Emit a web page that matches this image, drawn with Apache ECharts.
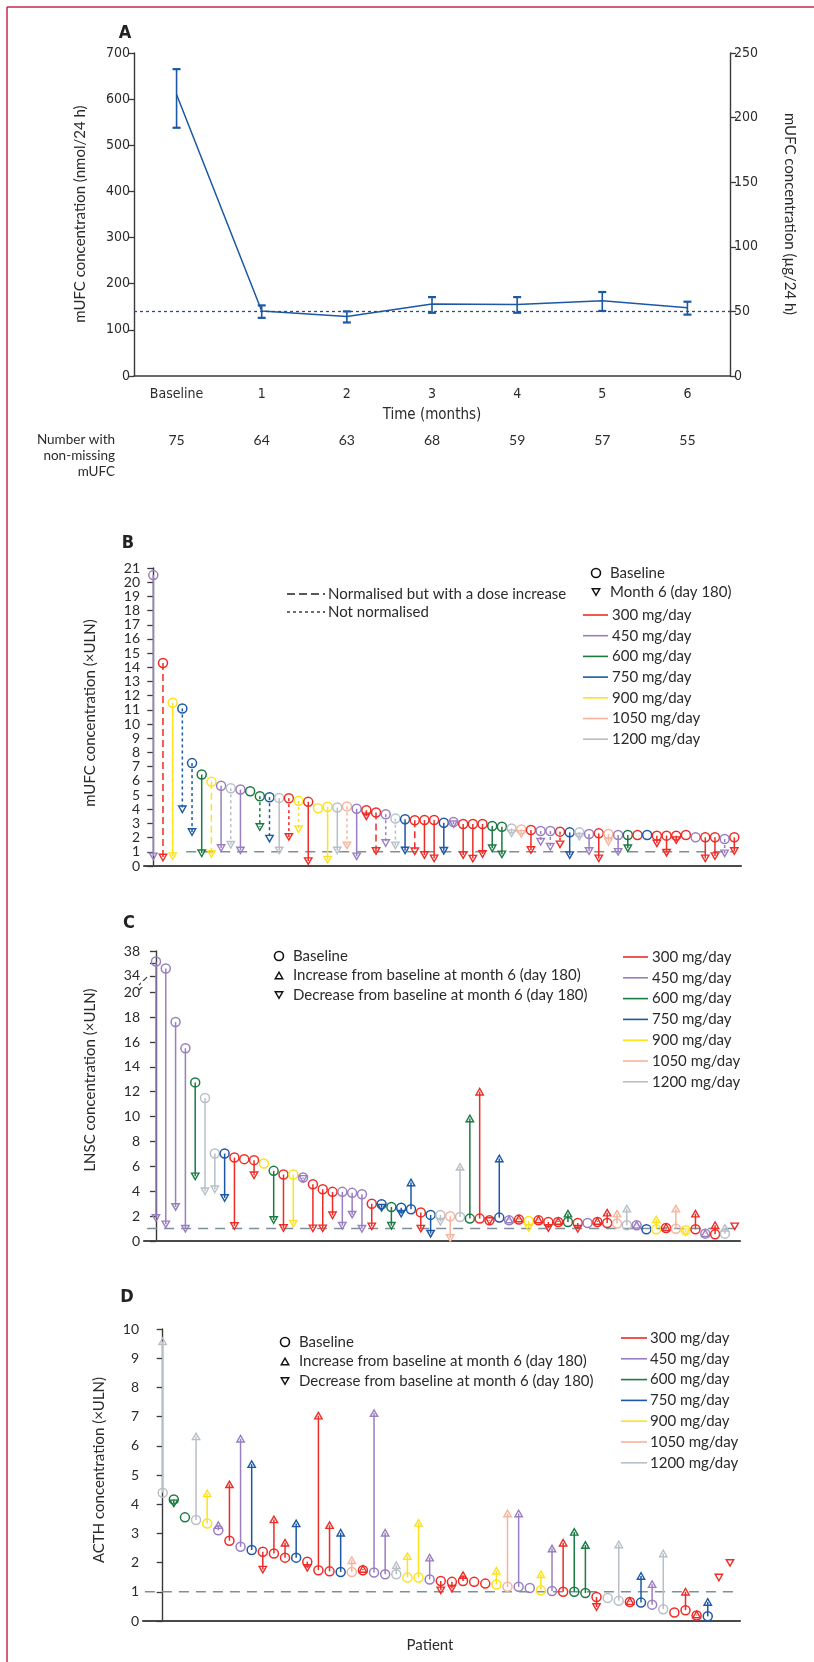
<!DOCTYPE html>
<html><head><meta charset="utf-8">
<script src="https://cdn.jsdelivr.net/npm/echarts@6/dist/echarts.min.js"></script>
<style>html,body{margin:0;padding:0;background:#fff}#c{width:814px;height:1662px}</style>
</head><body><div id="c"></div>
<script>
// ---------- Panel A data ----------
const aCats = ['Baseline', '1', '2', '3', '4', '5', '6'];
const aMean = [610, 141, 129, 156, 155, 163, 148];
const aLow  = [538, 126, 116, 137, 137, 141, 133];
const aHigh = [665, 153, 140, 171, 171, 182, 161];
const aN    = [75, 64, 63, 68, 59, 57, 55];
const aULN  = 140; // nmol/24 h  (= 50 µg/24 h)

// ---------- dose legend ----------
const doseLevels = [300, 450, 600, 750, 900, 1050, 1200];
const doseLabels = ['300 mg/day', '450 mg/day', '600 mg/day', '750 mg/day', '900 mg/day', '1050 mg/day', '1200 mg/day'];

// ---------- Panel B data (mUFC ×ULN) ----------
const bDose = [450,300,900,750,750,600,900,450,1200,450,600,600,750,1200,300,900,300,900,900,1200,1050,450,300,300,450,1200,750,300,300,300,750,450,300,300,300,600,600,1200,1050,300,450,450,300,750,1200,450,300,1050,450,600,300,750,300,300,300,300,450,300,300,450,300];
const bBase = [20.5,14.3,11.5,11.1,7.25,6.45,5.93,5.65,5.48,5.39,5.27,4.92,4.85,4.8,4.78,4.59,4.52,4.07,4.17,4.12,4.2,4.03,3.93,3.77,3.65,3.34,3.3,3.22,3.24,3.24,3.05,3.1,2.96,2.96,2.96,2.82,2.77,2.65,2.58,2.54,2.47,2.47,2.42,2.37,2.37,2.25,2.3,2.25,2.18,2.18,2.18,2.18,2.14,2.14,2.14,2.18,2.02,2.02,2.02,1.9,2.02];
const bM6   = [0.68,0.6,0.7,4.0,2.4,0.9,0.85,1.27,1.5,1.1,null,2.75,1.93,1.1,2.05,2.6,0.35,null,0.45,1.1,1.46,0.68,3.5,1.06,1.62,1.46,1.1,1.04,0.78,0.54,1.08,2.95,0.77,0.52,0.85,1.25,0.82,2.3,2.27,1.13,1.71,1.36,1.53,0.77,2.07,1.06,0.54,1.71,1.0,1.25,null,null,1.6,0.94,1.83,null,null,0.54,0.7,0.89,1.06];
// 0 = normalised, 1 = normalised but with a dose increase, 2 = not normalised
const bStatus = [0,1,0,2,2,0,1,0,2,0,0,2,2,0,2,2,0,0,0,0,2,0,0,1,2,2,0,1,0,0,0,0,0,0,0,0,0,0,0,0,2,2,2,0,0,0,0,0,0,0,0,0,0,0,0,0,0,0,0,2,0];

// ---------- Panel C data (LNSC ×ULN) ----------
const cDose = [450,450,450,450,600,1200,1200,750,300,300,300,900,600,300,900,450,300,300,300,450,450,450,300,750,600,750,750,300,750,1200,1050,1200,600,300,300,750,450,300,900,300,300,300,600,300,450,300,300,1050,1200,450,750,900,300,1050,900,300,450,300,1200,300];
const cBase = [36.3,35.2,17.6,15.5,12.75,11.5,7.03,7.03,6.71,6.58,6.5,6.23,5.64,5.34,5.34,5.1,4.56,4.16,3.95,3.95,3.87,3.76,3.0,2.95,2.74,2.68,2.55,2.3,2.1,2.1,1.99,1.93,1.8,1.8,1.66,1.88,1.66,1.72,1.61,1.66,1.53,1.53,1.53,1.45,1.45,1.53,1.45,1.4,1.26,1.26,0.94,0.94,1.05,0.99,0.86,0.94,0.59,0.54,0.59,null];
const cM6   = [1.85,1.34,2.74,0.99,5.2,4.0,4.16,3.46,1.21,null,5.29,null,1.69,1.05,1.4,5.0,1.02,1.02,2.07,1.23,2.12,0.99,1.18,2.68,1.23,2.2,4.7,1.0,0.59,1.55,0.24,5.96,9.85,12.0,1.61,6.63,1.72,1.8,1.05,1.72,1.05,1.6,2.2,0.99,null,1.6,2.28,2.2,2.6,1.3,null,1.74,1.1,2.6,0.7,2.2,0.62,1.26,1.05,1.18];
const cTicksLow = [0,2,4,6,8,10,12,14,16,18,20];
const cTicksHigh = [34,36,38];
const cHighLabels = [34,38];

// ---------- Panel D data (ACTH ×ULN) ----------
const dDose = [1200,600,600,1200,900,450,300,450,750,300,300,300,750,300,300,300,750,1050,300,450,450,1200,900,900,450,300,300,300,300,300,900,1050,450,450,900,450,300,600,600,300,1200,1200,300,750,450,1200,300,300,300,750,300,300];
const dBase = [4.39,4.16,3.55,3.46,3.34,3.11,2.75,2.54,2.43,2.37,2.31,2.17,2.17,2.03,1.74,1.7,1.68,1.68,1.74,1.66,1.6,1.6,1.49,1.49,1.42,1.37,1.34,1.37,1.34,1.28,1.25,1.17,1.17,1.13,1.05,1.03,1.0,1.0,0.96,0.82,0.79,0.69,0.65,0.63,0.56,0.4,0.29,0.37,0.19,0.16,null,null];
const dM6   = [9.58,4.03,null,6.32,4.37,3.28,4.68,6.24,5.37,1.76,3.48,2.68,3.34,1.82,7.03,3.28,3.02,2.08,1.78,7.12,3.02,1.91,2.22,3.36,2.17,1.05,1.11,1.57,null,null,1.72,3.68,3.68,null,1.6,2.48,2.68,3.05,2.6,0.48,null,2.62,0.68,1.54,1.26,2.31,null,1.0,0.22,0.65,1.49,1.99];

// ---------- styles ----------
const doseColors = ['#ee2b25', '#9a7ec2', '#1a7a42', '#1b58a5', '#ffe21a', '#f7b39c', '#b8bfc7'];
const colorOf = d => doseColors[doseLevels.indexOf(d)];
const dashes = [null, [7, 4], [3, 3]];
const FONT = 'Lato, "Open Sans", sans-serif';
const NARROW = '"Liberation Sans Narrow", "DejaVu Sans Condensed", Roboto, sans-serif';
const TXT = '#2b2b2b';
const REF = '#7d909a';

// C broken axis mapping
const cGap = 1.315;
const cMap = v => v == null ? null : (v <= 20 ? v : 20 + cGap + (v - 34) / 2);
const cUnmap = p => p <= 20.001 ? Math.round(p) : Math.round(34 + (p - 20 - cGap) * 2);
const ident = v => v;

function triPts(x, y, up) {
  return up ? [[x - 3.7, y + 3.2], [x + 3.7, y + 3.2], [x, y - 3.3]]
            : [[x - 3.7, y - 3.2], [x + 3.7, y - 3.2], [x, y + 3.3]];
}

function stemSeries(g, base, m6, dose, status, yMap) {
  return {
    type: 'custom', xAxisIndex: g, yAxisIndex: g, z: 5, clip: false,
    data: base.map((b, i) => [i, yMap(b != null ? b : m6[i]), yMap(m6[i] != null ? m6[i] : b)]),
    encode: { x: 0, y: [1, 2] },
    renderItem: (params, api) => {
      const i = params.dataIndex;
      const b = base[i], m = m6[i];
      const col = colorOf(dose[i]);
      const ch = [];
      const pb = b != null ? api.coord([i, yMap(b)]) : null;
      const pm = m != null ? api.coord([i, yMap(m)]) : null;
      const dash = status ? dashes[status[i]] : null;
      if (pb && pm) ch.push({ type: 'line', shape: { x1: pb[0], y1: pb[1], x2: pm[0], y2: pm[1] },
        style: { stroke: col, lineWidth: 1.5, lineDash: dash } });
      if (pm) {
        const up = pb ? pm[1] < pb[1] : false;
        ch.push({ type: 'polygon', shape: { points: triPts(pm[0], pm[1], up) },
          style: { stroke: col, fill: 'none', lineWidth: 1.4 } });
      }
      if (pb) ch.push({ type: 'circle', shape: { cx: pb[0], cy: pb[1], r: 4.5 },
        style: { stroke: col, fill: 'none', lineWidth: 1.5 } });
      return { type: 'group', children: ch };
    }
  };
}

function refLine(g, xFrom, xTo, yv) {
  return {
    type: 'line', xAxisIndex: g, yAxisIndex: g, z: 2, symbol: 'none', silent: true,
    data: [[xFrom, yv], [xTo, yv]],
    lineStyle: { color: REF, width: 1.6, type: [10, 7] }
  };
}

const yAxisBase = {
  type: 'value',
  axisLine: { show: true, lineStyle: { color: '#3a3a3a', width: 1.4 } },
  axisTick: { show: true, length: 6, lineStyle: { color: '#3a3a3a', width: 1.3 } },
  axisLabel: { fontSize: 14, color: TXT, fontFamily: FONT, margin: 4 },
  splitLine: { show: false }
};
const xAxisPatient = {
  type: 'value',
  axisLine: { show: true, onZero: false, lineStyle: { color: '#4a4a4a', width: 2.2 } },
  axisTick: { show: false }, axisLabel: { show: false }, splitLine: { show: false }
};

const blue = '#1b58a5';
const chart = echarts.init(document.getElementById('c'), null, { renderer: 'canvas' });

const option = {
  animation: false,
  backgroundColor: '#fff',
  grid: [
    { left: 134, top: 53, width: 596, height: 323 },
    { left: 144, top: 568, width: 597, height: 298 },
    { left: 144, top: 951, width: 596, height: 290 },
    { left: 143, top: 1329, width: 597, height: 292 }
  ],
  xAxis: [
    { type: 'category', gridIndex: 0, data: aCats, boundaryGap: true,
      axisLine: { lineStyle: { color: '#3a3a3a', width: 1.5 } },
      axisTick: { alignWithLabel: true, length: 5, lineStyle: { color: '#3a3a3a' } },
      axisLabel: { fontSize: 14, color: TXT, fontFamily: NARROW, margin: 11 } },
    Object.assign({}, xAxisPatient, { gridIndex: 1, min: -0.96, max: 60.69 }),
    Object.assign({}, xAxisPatient, { gridIndex: 2, min: -1.22, max: 59.54 }),
    Object.assign({}, xAxisPatient, { gridIndex: 3, min: -1.77, max: 51.9 })
  ],
  yAxis: [
    Object.assign({}, yAxisBase, { gridIndex: 0, min: 0, max: 700, interval: 100,
      axisLabel: { fontSize: 14, color: TXT, fontFamily: NARROW, margin: 4 } }),
    Object.assign({}, yAxisBase, { gridIndex: 1, min: 0, max: 21, interval: 1 }),
    Object.assign({}, yAxisBase, { gridIndex: 2, min: 0, max: cMap(38),
      axisTick: { show: true, length: 6, lineStyle: { color: '#3a3a3a', width: 1.3 },
        customValues: cTicksLow.concat(cTicksHigh.map(cMap)) },
      axisLabel: { fontSize: 14, color: TXT, fontFamily: FONT, margin: 4,
        customValues: cTicksLow.concat(cHighLabels.map(cMap)), formatter: v => String(cUnmap(v)) } }),
    Object.assign({}, yAxisBase, { gridIndex: 3, min: 0, max: 10, interval: 1 }),
    Object.assign({}, yAxisBase, { gridIndex: 0, position: 'right', min: 0, max: 250, interval: 50,
      axisLabel: { fontSize: 14, color: TXT, fontFamily: NARROW, margin: 4 } })
  ],
  series: [
    { type: 'line', xAxisIndex: 0, yAxisIndex: 0, data: aMean, symbol: 'none', z: 4,
      lineStyle: { color: blue, width: 1.5 },
      markLine: { silent: true, symbol: 'none', label: { show: false },
        lineStyle: { color: '#2d4f73', type: [3, 3], width: 1.3 }, data: [{ yAxis: aULN }] } },
    { type: 'custom', xAxisIndex: 0, yAxisIndex: 0, z: 5,
      data: aCats.map((c, i) => [i, aLow[i], aHigh[i]]),
      renderItem: (p, api) => {
        const lo = api.coord([api.value(0), api.value(1)]);
        const hi = api.coord([api.value(0), api.value(2)]);
        const w = 4;
        const st = { stroke: blue, lineWidth: 1.6 };
        return { type: 'group', children: [
          { type: 'line', shape: { x1: lo[0], y1: lo[1], x2: hi[0], y2: hi[1] }, style: st },
          { type: 'line', shape: { x1: lo[0] - w, y1: lo[1], x2: lo[0] + w, y2: lo[1] }, style: { stroke: blue, lineWidth: 2.2 } },
          { type: 'line', shape: { x1: hi[0] - w, y1: hi[1], x2: hi[0] + w, y2: hi[1] }, style: { stroke: blue, lineWidth: 2.2 } }
        ] };
      } },
    refLine(1, 3.4, 60.0, 1),
    stemSeries(1, bBase, bM6, bDose, bStatus, ident),
    refLine(2, -0.9, 59.4, 1),
    stemSeries(2, cBase, cM6, cDose, null, cMap),
    refLine(3, -1.6, 51.8, 1),
    stemSeries(3, dBase, dM6, dDose, null, ident)
  ]
};
chart.setOption(option);

// ---------- text, legends, decorations ----------
const G = [];
const LF = '15px ' + FONT;
const txt = (x, y, s, o) => G.push(Object.assign({ type: 'text', x, y, z: 10,
  style: Object.assign({ text: s, font: LF, fill: TXT, align: 'left', verticalAlign: 'middle' }, (o && o.style) || {}) },
  o && o.rotation != null ? { rotation: o.rotation } : {}));
const seg = (x1, y1, x2, y2, col, w, dash) => G.push({ type: 'line', z: 10,
  shape: { x1, y1, x2, y2 }, style: { stroke: col, lineWidth: w, lineDash: dash || null } });

// page frame
seg(7, 7, 814, 7, '#c6284f', 1.5);
seg(7, 7, 7, 1662, '#c6284f', 1.5);

// panel letters
[['A', 125, 33], ['B', 128, 543], ['C', 129, 923], ['D', 127, 1297]].forEach(([s, x, y]) =>
  txt(x, y, s, { style: { font: 'bold 18px ' + NARROW, align: 'center', fill: '#222' } }));

// Panel A titles
txt(80, 214, 'mUFC concentration (nmol/24 h)', { rotation: Math.PI / 2, style: { align: 'center' } });
txt(790, 214, 'mUFC concentration (µg/24 h)', { rotation: -Math.PI / 2, style: { align: 'center' } });
txt(432, 415, 'Time (months)', { style: { align: 'center', font: '15px ' + NARROW } });
const NF = '13.5px ' + FONT;
txt(115, 440, 'Number with', { style: { align: 'right', font: NF } });
txt(115, 456, 'non-missing', { style: { align: 'right', font: NF } });
txt(115, 472, 'mUFC', { style: { align: 'right', font: NF } });
aN.forEach((n, i) => {
  const px = chart.convertToPixel({ xAxisIndex: 0 }, i);
  txt(px, 440, String(n), { style: { align: 'center', font: '14px ' + FONT } });
});

// y axis titles B, C, D
txt(90, 713, 'mUFC concentration (×ULN)', { rotation: Math.PI / 2, style: { align: 'center' } });
txt(90, 1080, 'LNSC concentration (×ULN)', { rotation: Math.PI / 2, style: { align: 'center' } });
txt(99, 1470, 'ACTH concentration (×ULN)', { rotation: Math.PI / 2, style: { align: 'center' } });
txt(430, 1645, 'Patient', { style: { align: 'center' } });

// Panel B legends
seg(287, 594, 325, 594, '#222', 1.5, [8, 4]);
txt(328, 594, 'Normalised but with a dose increase');
seg(287, 612, 325, 612, '#222', 1.3, [3, 3]);
txt(328, 612, 'Not normalised');

function markerLegend(x, y0, lines, withUp) {
  G.push({ type: 'circle', z: 10, shape: { cx: x, cy: y0, r: 4.5 }, style: { stroke: '#111', fill: 'none', lineWidth: 1.6 } });
  txt(x + 14, y0, lines[0]);
  lines.slice(1).forEach((s, k) => {
    const yy = y0 + (k + 1) * (withUp ? 19.5 : 19);
    const up = withUp && k === 0;
    G.push({ type: 'polygon', z: 10, shape: { points: triPts(x, yy, up) }, style: { stroke: '#111', fill: 'none', lineWidth: 1.5 } });
    txt(x + 14, yy, s);
  });
}
function doseLegend(x1, x2, tx, y0, dy) {
  doseLabels.forEach((s, k) => {
    seg(x1, y0 + k * dy, x2, y0 + k * dy, doseColors[k], 1.6);
    txt(tx, y0 + k * dy, s);
  });
}
markerLegend(596, 573, ['Baseline', 'Month 6 (day 180)'], false);
doseLegend(583, 608, 612, 615, 20.7);

markerLegend(279, 956, ['Baseline', 'Increase from baseline at month 6 (day 180)', 'Decrease from baseline at month 6 (day 180)'], true);
doseLegend(623, 648, 652, 957, 20.8);

markerLegend(285, 1342, ['Baseline', 'Increase from baseline at month 6 (day 180)', 'Decrease from baseline at month 6 (day 180)'], true);
doseLegend(621, 647, 650, 1338, 20.8);

// C axis break
const yb20 = chart.convertToPixel({ yAxisIndex: 2 }, 20);
const yb34 = chart.convertToPixel({ yAxisIndex: 2 }, cMap(34));
const xAx = chart.convertToPixel({ xAxisIndex: 2 }, -1.22);
const ym = (yb20 + yb34) / 2;
G.push({ type: 'rect', z: 11, shape: { x: xAx - 3, y: ym - 3, width: 6, height: 6 }, style: { fill: '#fff' } });
seg(xAx - 5, ym + 1, xAx + 3, ym - 7, '#3a3a3a', 1.2);
seg(xAx - 5, ym + 6, xAx + 3, ym - 2, '#3a3a3a', 1.2);

chart.setOption({ graphic: G });
</script></body></html>
